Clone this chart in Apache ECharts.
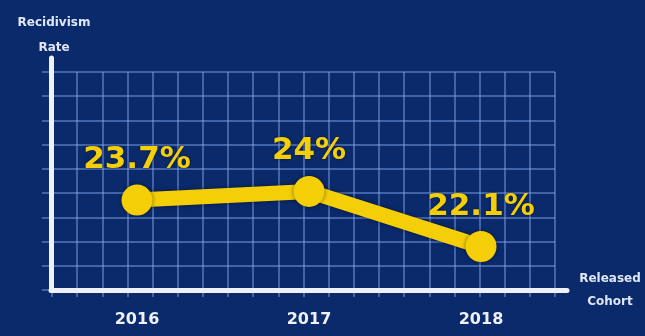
<!DOCTYPE html>
<html>
<head>
<meta charset="utf-8">
<style>
  html, body { margin: 0; padding: 0; background: #0b2a6c; }
  #chart { width: 645px; height: 336px; }
</style>
<script src="https://cdn.jsdelivr.net/npm/echarts@6/dist/echarts.min.js"></script>
</head>
<body>
<div id="chart"></div>
<script>
// Data
var cohorts = ['2016', '2017', '2018'];
var rates = [23.7, 24, 22.1];
var yAxisTitle = 'Recidivism\nRate';
var xAxisTitle = 'Released\nCohort';

var yellow = '#f4cf08';
var gridColor = 'rgba(125,165,235,0.48)';
var white = '#eef1f8';

var chart = echarts.init(document.getElementById('chart'), null, { renderer: 'canvas' });
chart.setOption({
  backgroundColor: '#0b2a6c',
  animation: false,
  grid: [
    { left: 51, right: 78, top: 58, bottom: 46 },
    { left: 52, right: 90, top: 72, bottom: 46 }
  ],
  xAxis: [
    {
      gridIndex: 0,
      type: 'category',
      data: cohorts,
      boundaryGap: true,
      axisLine: { show: true, lineStyle: { color: white, width: 5 } },
      axisTick: { show: false },
      axisLabel: { color: white, fontFamily: 'DejaVu Sans', fontWeight: 'bold', fontSize: 16, margin: 22 },
      splitLine: { show: false },
      name: xAxisTitle,
      nameLocation: 'end',
      nameGap: 43,
      nameTextStyle: { color: '#dfe6f5', fontFamily: 'DejaVu Sans', fontWeight: 'bold', fontSize: 12, lineHeight: 23, align: 'center', verticalAlign: 'middle', padding: [6, 0, 0, 0] },
      z: 5
    },
    {
      gridIndex: 1,
      type: 'value',
      min: 0, max: 20, interval: 1,
      axisLine: { show: false },
      axisTick: { show: true, length: 7, lineStyle: { color: gridColor, width: 2 } },
      axisLabel: { show: false },
      splitLine: { show: true, lineStyle: { color: gridColor, width: 2 } },
      z: 1
    }
  ],
  yAxis: [
    {
      gridIndex: 0,
      type: 'value',
      min: 20.6, max: 28.6,
      axisLine: { show: true, lineStyle: { color: white, width: 5 } },
      axisTick: { show: false },
      axisLabel: { show: false },
      splitLine: { show: false },
      name: yAxisTitle,
      nameLocation: 'end',
      nameGap: -2,
      nameTextStyle: { color: '#dfe6f5', fontFamily: 'DejaVu Sans', fontWeight: 'bold', fontSize: 12, lineHeight: 25, align: 'center', padding: [0, 0, 0, 6] },
      z: 5
    },
    {
      gridIndex: 1,
      type: 'value',
      min: 0, max: 9, interval: 1,
      axisLine: { show: false },
      axisTick: { show: true, length: 10, lineStyle: { color: gridColor, width: 2 } },
      axisLabel: { show: false },
      splitLine: { show: true, lineStyle: { color: gridColor, width: 2 } },
      z: 1
    }
  ],
  series: [{
    type: 'line',
    xAxisIndex: 0,
    yAxisIndex: 0,
    data: rates,
    symbol: 'circle',
    symbolSize: 31,
    z: 10,
    lineStyle: { color: yellow, width: 15, cap: 'round', join: 'round', shadowColor: 'rgba(0,0,0,0.5)', shadowBlur: 4 },
    itemStyle: { color: yellow, shadowColor: 'rgba(0,0,0,0.5)', shadowBlur: 4 },
    label: {
      show: true,
      position: 'top',
      distance: 9,
      formatter: function (p) { return p.value + '%'; },
      color: yellow,
      fontFamily: 'DejaVu Sans',
      fontWeight: 'bold',
      fontSize: 31,
      textShadowColor: 'rgba(0,0,0,0.55)',
      textShadowBlur: 3
    }
  }]
});
</script>
</body>
</html>
